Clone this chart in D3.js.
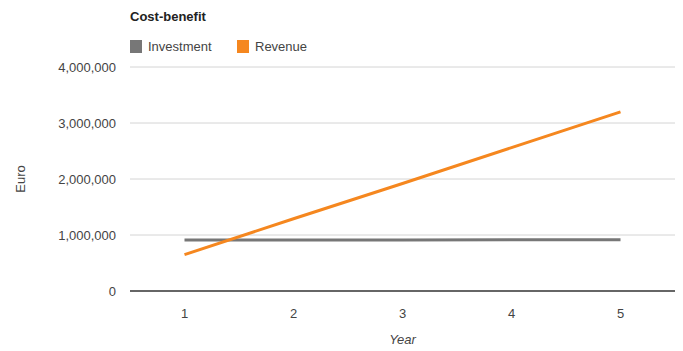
<!DOCTYPE html>
<html>
<head>
<meta charset="utf-8">
<script src="https://cdn.jsdelivr.net/npm/d3@7"></script>
<style>
  body { margin: 0; background: #fff; }
  text { font-family: Arial, "Liberation Sans", sans-serif; }
</style>
</head>
<body>
<svg id="chart"></svg>
<script>
// data
const years = [1, 2, 3, 4, 5];
const investment = [910000, 910000, 910000, 915000, 915000];
const revenue = [650000, 1290000, 1920000, 2560000, 3200000];
const yTicks = [0, 1000000, 2000000, 3000000, 4000000];
const seriesNames = ["Investment", "Revenue"];
const seriesColors = ["#777777", "#f5871f"];

const width = 683, height = 351;
const margin = { top: 67, right: 8, bottom: 60, left: 130 };

const svg = d3.select("#chart")
    .attr("width", width)
    .attr("height", height);

const x = d3.scalePoint()
    .domain(years)
    .range([margin.left, width - margin.right])
    .padding(0.5);

const y = d3.scaleLinear()
    .domain([0, 4000000])
    .range([height - margin.bottom, margin.top]);

// gridlines
svg.append("g")
    .selectAll("line")
    .data(yTicks.filter(d => d > 0))
    .join("line")
    .attr("x1", margin.left)
    .attr("x2", width - margin.right)
    .attr("y1", d => y(d))
    .attr("y2", d => y(d))
    .attr("stroke", "#d4d4d4")
    .attr("stroke-width", 1);

// y labels
svg.append("g")
    .selectAll("text")
    .data(yTicks)
    .join("text")
    .attr("x", margin.left - 14)
    .attr("y", d => y(d) + 5)
    .attr("text-anchor", "end")
    .attr("font-size", 13)
    .attr("fill", "#444")
    .text(d => d3.format(",")(d));

// x labels
svg.append("g")
    .selectAll("text")
    .data(years)
    .join("text")
    .attr("x", d => x(d))
    .attr("y", y(0) + 27)
    .attr("text-anchor", "middle")
    .attr("font-size", 13)
    .attr("fill", "#444")
    .text(d => d);

// lines
const line = d3.line()
    .x((d, i) => x(years[i]))
    .y(d => y(d));

[investment, revenue].forEach((s, i) => {
    svg.append("path")
        .datum(s)
        .attr("fill", "none")
        .attr("stroke", seriesColors[i])
        .attr("stroke-width", 3)
        .attr("d", line);
});

// zero baseline
svg.append("line")
    .attr("x1", margin.left)
    .attr("x2", width - margin.right)
    .attr("y1", y(0))
    .attr("y2", y(0))
    .attr("stroke", "#333")
    .attr("stroke-width", 1.5);

// title
svg.append("text")
    .attr("x", margin.left)
    .attr("y", 21)
    .attr("font-size", 13)
    .attr("font-weight", "bold")
    .attr("fill", "#222")
    .text("Cost-benefit");

// legend
const legend = svg.append("g");
const legendX = [margin.left, 237];
seriesNames.forEach((name, i) => {
    legend.append("rect")
        .attr("x", legendX[i])
        .attr("y", 40)
        .attr("width", 12)
        .attr("height", 13)
        .attr("fill", seriesColors[i]);
    legend.append("text")
        .attr("x", legendX[i] + 18)
        .attr("y", 51)
        .attr("font-size", 13)
        .attr("fill", "#444")
        .text(name);
});

// axis titles
svg.append("text")
    .attr("transform", `translate(25,${(y(0) + y(4000000)) / 2}) rotate(-90)`)
    .attr("text-anchor", "middle")
    .attr("font-size", 13)
    .attr("fill", "#444")
    .text("Euro");

svg.append("text")
    .attr("x", x(3))
    .attr("y", 344)
    .attr("text-anchor", "middle")
    .attr("font-size", 13)
    .attr("font-style", "italic")
    .attr("fill", "#444")
    .text("Year");
</script>
</body>
</html>
